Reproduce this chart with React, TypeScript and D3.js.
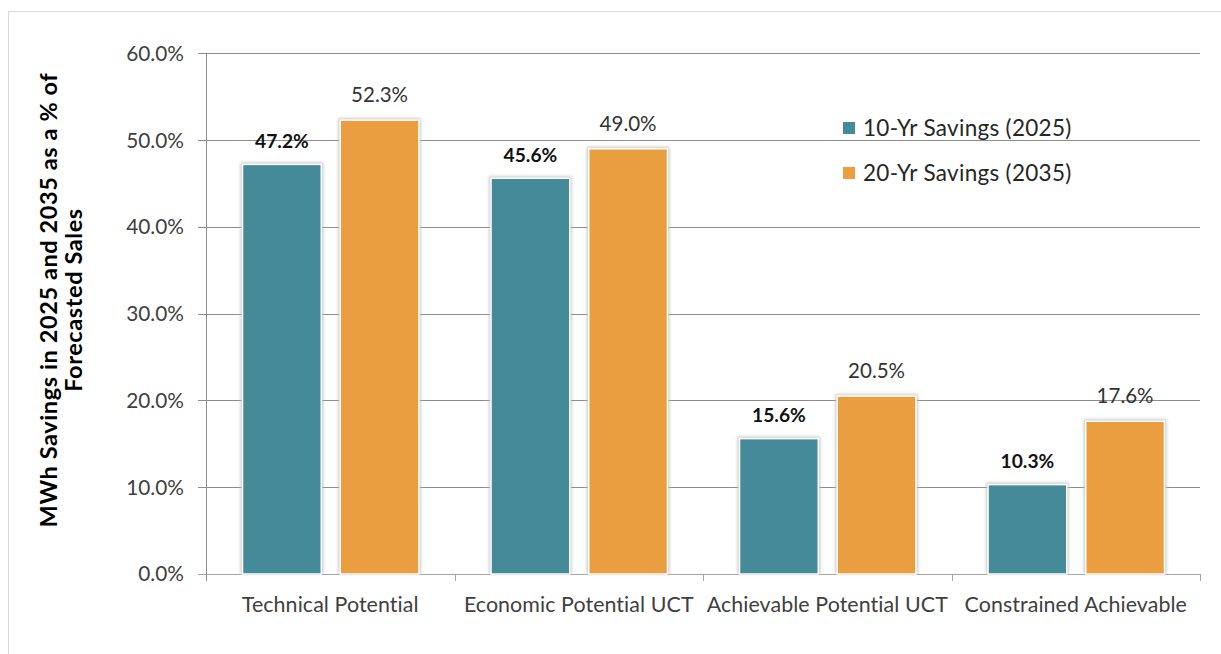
import React from "react";
import * as d3 from "d3";

// Savings potential by scenario, as a share of forecasted sales (%)
const categories = [
  "Technical Potential",
  "Economic Potential UCT",
  "Achievable Potential UCT",
  "Constrained Achievable",
];
const seriesNames = ["10-Yr Savings (2025)", "20-Yr Savings (2035)"];
const savings2025 = [47.2, 45.6, 15.6, 10.3];
const savings2035 = [52.3, 49.0, 20.5, 17.6];
const yTicks = [0, 10, 20, 30, 40, 50, 60];

const W = 1221;
const H = 654;
const FONT = "Lato, 'Open Sans', sans-serif";
const COLORS = ["#458a99", "#eb9e40"];

export default function App() {
  const plot = { left: 206, right: 1200, top: 53.3, bottom: 574 };

  const y = d3.scaleLinear().domain([0, 60]).range([plot.bottom, plot.top]);
  const x = d3
    .scaleBand<string>()
    .domain(categories)
    .range([plot.left, plot.right])
    .paddingInner(0)
    .paddingOuter(0);
  const bw = x.bandwidth();
  const inner = d3
    .scaleBand<number>()
    .domain([0, 1])
    .range([bw * 0.147, bw * 0.857])
    .paddingInner(0.194)
    .paddingOuter(0);

  const series = [savings2025, savings2035];
  const fmt = (v: number) => `${v.toFixed(1)}%`;

  return (
    <svg
      width={W}
      height={H}
      style={{ position: "absolute", left: 0, top: 0, background: "#fff" }}
    >
      <defs>
        <filter id="barGlow" x="-20%" y="-20%" width="140%" height="140%">
          <feGaussianBlur stdDeviation="1.6" />
        </filter>
      </defs>
      <rect x={0} y={0} width={W} height={H} fill="#fff" />
      <rect
        x={8.5}
        y={11.5}
        width={1400}
        height={800}
        fill="none"
        stroke="#d9d9d9"
        strokeWidth={1}
      />

      {/* gridlines and y-axis ticks */}
      {yTicks.map((t) => (
        <g key={t}>
          <line
            x1={plot.left - 8}
            x2={plot.right}
            y1={Math.round(y(t)) + 0.5}
            y2={Math.round(y(t)) + 0.5}
            stroke={t === 0 ? "#a6a6a6" : "#8c8c8c"}
            strokeWidth={1}
          />
          <text
            x={184}
            y={y(t)}
            dy="0.36em"
            textAnchor="end"
            fontFamily={FONT}
            fontSize={20.8}
            fill="#404040"
          >
            {fmt(t)}
          </text>
        </g>
      ))}

      {/* y axis line */}
      <line
        x1={plot.left + 0.5}
        x2={plot.left + 0.5}
        y1={plot.top}
        y2={plot.bottom + 7}
        stroke="#8c8c8c"
      />
      {/* category boundary ticks */}
      {categories.map((c) => (
        <line
          key={c}
          x1={Math.round((x(c) as number) + bw) + 0.5}
          x2={Math.round((x(c) as number) + bw) + 0.5}
          y1={plot.bottom}
          y2={plot.bottom + 7}
          stroke="#a6a6a6"
        />
      ))}

      {/* bars */}
      {categories.map((c, ci) =>
        series.map((vals, si) => {
          const bx = (x(c) as number) + (inner(si) as number);
          const by = y(vals[ci]);
          const bh = plot.bottom - by;
          const w = inner.bandwidth();
          return (
            <g key={`${c}-${si}`}>
              <rect
                x={bx - 2}
                y={by - 2}
                width={w + 4}
                height={bh + 2}
                fill="#bdbdbd"
                filter="url(#barGlow)"
                opacity={0.8}
              />
              <rect
                x={bx}
                y={by}
                width={w}
                height={bh}
                fill={COLORS[si]}
                stroke="#ffffff"
                strokeWidth={1.5}
              />
            </g>
          );
        })
      )}

      {/* data labels */}
      {categories.map((c, ci) =>
        series.map((vals, si) => {
          const cx =
            (x(c) as number) + (inner(si) as number) + inner.bandwidth() / 2;
          return (
            <text
              key={`lab-${c}-${si}`}
              x={cx}
              y={y(vals[ci]) - (si === 0 ? 16.5 : 18)}
              textAnchor="middle"
              fontFamily={FONT}
              fontSize={si === 0 ? 19.2 : 20.5}
              fontWeight={si === 0 ? 700 : 400}
              fill={si === 0 ? "#111" : "#333"}
            >
              {fmt(vals[ci])}
            </text>
          );
        })
      )}

      {/* category labels */}
      {categories.map((c) => (
        <text
          key={`cat-${c}`}
          x={(x(c) as number) + bw / 2}
          y={611.5}
          textAnchor="middle"
          fontFamily={FONT}
          fontSize={21.4}
          letterSpacing={0.08}
          fill="#404040"
        >
          {c}
        </text>
      ))}

      {/* legend */}
      {seriesNames.map((s, i) => (
        <g key={s} transform={`translate(843, ${122 + i * 45})`}>
          <rect width={12} height={12} fill={COLORS[i]} />
          <text
            x={20}
            y={6}
            dy="0.36em"
            fontFamily={FONT}
            fontSize={22.5}
            letterSpacing={0.3}
            fill="#262626"
          >
            {s}
          </text>
        </g>
      ))}

      {/* y axis title */}
      <text
        transform="translate(0, 300) rotate(-90)"
        textAnchor="middle"
        fontFamily={FONT}
        fontSize={23.5}
        fontWeight={700}
        letterSpacing={0.6}
        fill="#000"
      >
        <tspan x={0} y={57}>
          MWh Savings in 2025 and 2035 as a % of
        </tspan>
        <tspan x={0} y={82}>
          Forecasted Sales
        </tspan>
      </text>
    </svg>
  );
}
